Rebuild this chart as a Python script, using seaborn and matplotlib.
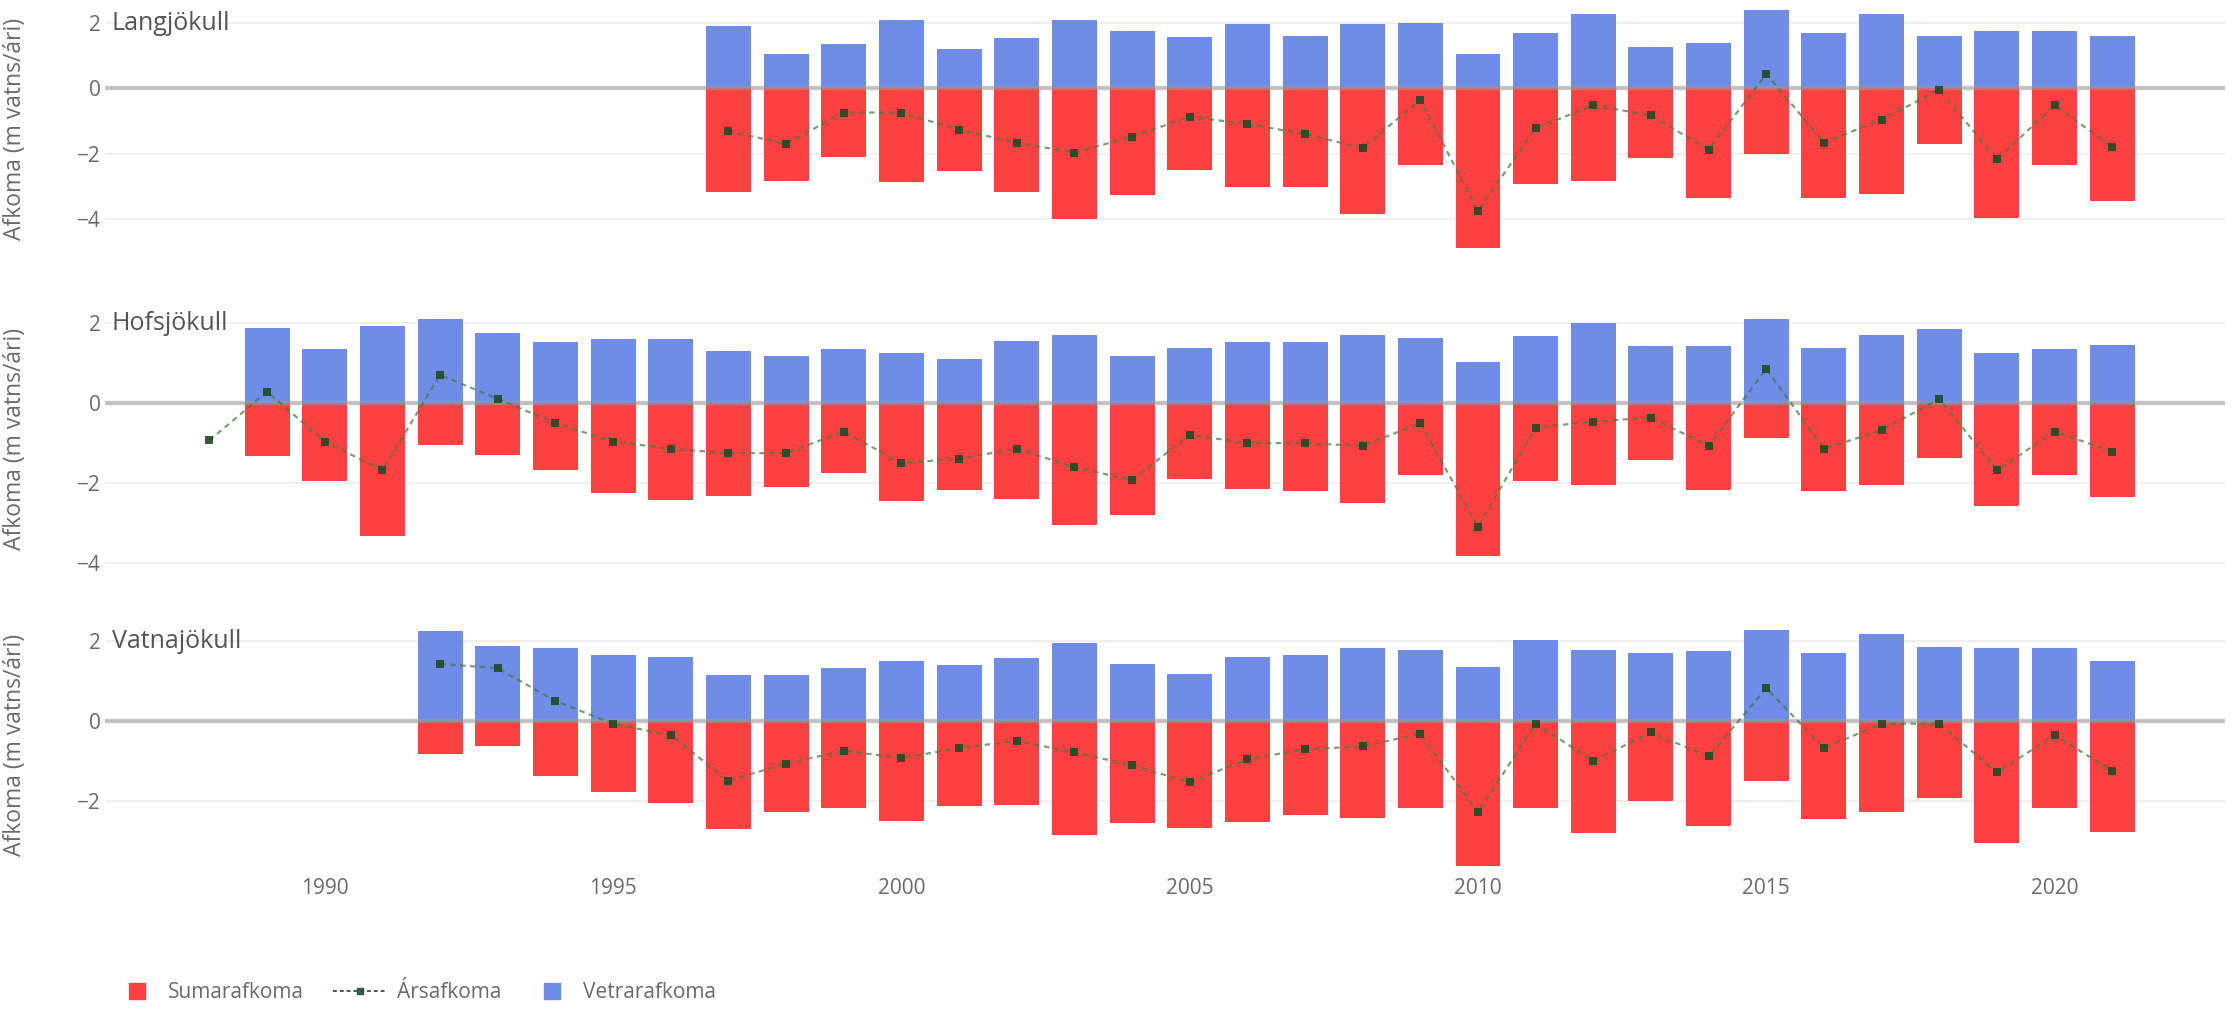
import numpy as np
import pandas as pd
import matplotlib
matplotlib.use("Agg")
import matplotlib.pyplot as plt
import seaborn as sns
from matplotlib.lines import Line2D

# ---------------- data ----------------
glaciers = ["Langjökull", "Hofsjökull", "Vatnajökull"]

lang_years = list(range(1997, 2022))
lang_winter = [1.92, 1.05, 1.35, 2.10, 1.22, 1.53, 2.10, 1.75, 1.57, 1.97, 1.62, 1.97, 2.00,
               1.05, 1.70, 2.27, 1.27, 1.40, 2.40, 1.70, 2.27, 1.62, 1.75, 1.75, 1.62]
lang_summer = [-3.19, -2.84, -2.10, -2.88, -2.53, -3.19, -4.00, -3.28, -2.49, -3.01, -3.01, -3.84, -2.36,
               -4.89, -2.93, -2.84, -2.14, -3.36, -2.00, -3.36, -3.23, -1.70, -3.97, -2.36, -3.45]
lang_annual_years = list(range(1997, 2022))
lang_annual = [-1.31, -1.70, -0.74, -0.74, -1.27, -1.66, -1.97, -1.48, -0.87, -1.09, -1.40, -1.83, -0.35,
               -3.76, -1.22, -0.52, -0.83, -1.88, 0.44, -1.66, -0.96, -0.04, -2.18, -0.52, -1.79]

hof_years = list(range(1989, 2022))
hof_winter = [1.89, 1.36, 1.93, 2.10, 1.75, 1.54, 1.61, 1.61, 1.32, 1.18, 1.36, 1.25, 1.11, 1.57, 1.71,
              1.18, 1.39, 1.54, 1.54, 1.71, 1.64, 1.04, 1.68, 2.00, 1.43, 1.43, 2.10, 1.39, 1.71, 1.86,
              1.25, 1.36, 1.46]
hof_summer = [-1.32, -1.96, -3.32, -1.04, -1.29, -1.68, -2.25, -2.43, -2.32, -2.10, -1.75, -2.46, -2.18,
              -2.39, -3.04, -2.79, -1.89, -2.14, -2.21, -2.50, -1.79, -3.82, -1.96, -2.04, -1.43, -2.18,
              -0.86, -2.21, -2.04, -1.36, -2.57, -1.79, -2.36]
hof_annual_years = list(range(1988, 2022))
hof_annual = [-0.93, 0.29, -0.96, -1.68, 0.71, 0.11, -0.50, -0.96, -1.14, -1.25, -1.25, -0.71, -1.50,
              -1.39, -1.14, -1.60, -1.93, -0.79, -1.00, -1.00, -1.07, -0.50, -3.10, -0.61, -0.46, -0.36,
              -1.07, 0.86, -1.14, -0.68, 0.11, -1.68, -0.71, -1.21]

vat_years = list(range(1992, 2022))
vat_winter = [2.25, 1.89, 1.82, 1.64, 1.61, 1.14, 1.14, 1.32, 1.50, 1.39, 1.57, 1.96, 1.43, 1.18, 1.61,
              1.64, 1.82, 1.79, 1.36, 2.04, 1.79, 1.71, 1.75, 2.29, 1.71, 2.18, 1.86, 1.82, 1.82, 1.50]
vat_summer = [-0.82, -0.64, -1.39, -1.79, -2.07, -2.71, -2.29, -2.18, -2.50, -2.14, -2.11, -2.86, -2.57,
              -2.68, -2.54, -2.36, -2.43, -2.18, -3.64, -2.18, -2.82, -2.00, -2.64, -1.50, -2.46, -2.29,
              -1.93, -3.07, -2.18, -2.79]
vat_annual_years = list(range(1992, 2022))
vat_annual = [1.43, 1.32, 0.50, -0.07, -0.36, -1.50, -1.07, -0.75, -0.93, -0.68, -0.50, -0.79, -1.11,
              -1.54, -0.96, -0.71, -0.64, -0.32, -2.29, -0.07, -1.00, -0.29, -0.89, 0.82, -0.68, -0.07,
              -0.07, -1.29, -0.36, -1.25]

x_ticks = [1990, 1995, 2000, 2005, 2010, 2015, 2020]
y_label = "Afkoma (m vatns/ári)"
legend_labels = ["Sumarafkoma", "Ársafkoma", "Vetrarafkoma"]

# ---------------- style ----------------
sns.set_theme(style="white")
plt.rcParams["font.family"] = ["Open Sans", "DejaVu Sans"]

RED = "#ff4040"
BLUE = "#6e8ce8"
GREEN_LINE = "#3f7a3f"
GREEN_DOT = "#1f4a25"
TXT = "#555555"
TICK = "#6a6a6a"

W, H = 2234, 1010
fig = plt.figure(figsize=(W / 100, H / 100), dpi=100)

left_px, right_px = 105, 2225
panels = [
    # (top px, bottom px, ylim)
    (0.3, 258.0, (-5.2, 2.7)),
    (299.5, 578.8, (-4.4, 2.6)),
    (617.2, 872.5, (-3.8, 2.6)),
]
datasets = [
    (lang_years, lang_winter, lang_summer, lang_annual_years, lang_annual),
    (hof_years, hof_winter, hof_summer, hof_annual_years, hof_annual),
    (vat_years, vat_winter, vat_summer, vat_annual_years, vat_annual),
]

x0 = 1990 + (left_px - 324.8) / 57.66
x1 = 1990 + (right_px - 324.8) / 57.66

for i, ((top, bot, ylim), (yrs, wnt, smr, ayrs, ann), name) in enumerate(zip(panels, datasets, glaciers)):
    ax = fig.add_axes([left_px / W, 1 - bot / H, (right_px - left_px) / W, (bot - top) / H])
    dfw = pd.DataFrame({"year": yrs, "winter": wnt, "summer": smr})
    dfa = pd.DataFrame({"year": ayrs, "annual": ann})

    sns.barplot(data=dfw, x="year", y="winter", native_scale=True, color=BLUE, width=0.78,
                errorbar=None, ax=ax, saturation=1, linewidth=0, zorder=2)
    sns.barplot(data=dfw, x="year", y="summer", native_scale=True, color=RED, width=0.78,
                errorbar=None, ax=ax, saturation=1, linewidth=0, zorder=2)
    sns.lineplot(data=dfa, x="year", y="annual", ax=ax, color=GREEN_LINE, linewidth=1.6,
                 alpha=0.7, zorder=4)
    ax.lines[-1].set_linestyle((0, (2.5, 2.0)))
    sns.scatterplot(data=dfa, x="year", y="annual", ax=ax, color=GREEN_DOT, s=32,
                    marker="s", linewidth=0, zorder=5, alpha=0.9)

    ax.axhline(0, color="#9a9a9a", linewidth=3.2, alpha=0.55, zorder=3)

    ax.set_xlim(x0, x1)
    ax.set_ylim(*ylim)
    ax.set_yticks([t for t in [-4, -2, 0, 2] if ylim[0] <= t <= ylim[1]])
    ax.yaxis.grid(True, color="#ececec", linewidth=1.2, zorder=0)
    ax.set_axisbelow(True)
    for s in ax.spines.values():
        s.set_visible(False)
    ax.tick_params(axis="y", length=0, pad=3, labelsize=15, labelcolor=TICK)
    ax.set_xticks(x_ticks)
    if i == 2:
        ax.tick_params(axis="x", length=0, pad=4, labelsize=15, labelcolor=TICK)
    else:
        ax.tick_params(axis="x", length=0, labelbottom=False)
    ax.set_xlabel("")
    ax.set_ylabel(y_label, fontsize=16.5, color=TICK)
    ax.yaxis.set_label_coords((27 - left_px) / (right_px - left_px), 0.5)
    ax.text(x0 + 0.12, 2, name, ha="left", va="center", fontsize=18, color=TXT, zorder=6)

FS = 15
legend_items = [
    # handle, anchor px, handlelength (em), handletextpad (em)
    (Line2D([], [], marker="s", linestyle="none", markersize=11, color=RED), 118.3, 1.0, 0.99),
    (Line2D([], [], marker="s", linestyle=(0, (2, 1.5)), markersize=5, color=GREEN_DOT,
            linewidth=1.4, alpha=0.85), 324.7, 2.6, 0.48),
    (Line2D([], [], marker="s", linestyle="none", markersize=11, color=BLUE), 533.3, 1.0, 0.99),
]
for (h, xpx, hl, tp), lab in zip(legend_items, legend_labels):
    leg = fig.legend([h], [lab], loc="center left", bbox_to_anchor=(xpx / W, 1 - 993 / H),
                     frameon=False, fontsize=FS, handlelength=hl, handletextpad=tp,
                     borderaxespad=0, borderpad=0.4)
    for t in leg.get_texts():
        t.set_color(TICK)

fig.savefig("out.png", dpi=100)
